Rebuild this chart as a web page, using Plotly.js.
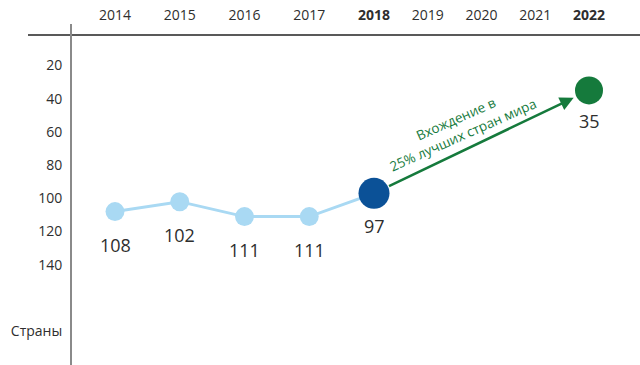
<!DOCTYPE html>
<html>
<head>
<meta charset="utf-8">
<script src="https://cdn.plot.ly/plotly-3.0.1.min.js"></script>
<style>html,body{margin:0;padding:0;background:#fff;}#chart{width:640px;height:365px;}</style>
</head>
<body>
<div id="chart"></div>
<script>
// ---- data ----
const pastYears = [2014, 2015, 2016, 2017, 2018];
const pastRanks = [108, 102, 111, 111, 97];
const currentYear = 2018;
const currentRank = 97;
const targetYear = 2022;
const targetRank = 35;
const futureTickYears = [2019, 2020, 2021, 2022];
const boldYears = [2018, 2022];
const rankTicks = [20, 40, 60, 80, 100, 120, 140, 180];
const rankTickText = ['20', '40', '60', '80', '100', '120', '140', 'Страны'];
const arrowText = 'Вхождение в<br>25% лучших стран мира';

const FONT = 'Open Sans, sans-serif';
const LIGHT = '#a9d9f3';
const DARK = '#0b5197';
const GREEN = '#157a3c';
const TXT = '#2e2e2e';

const fmtYear = y => boldYears.includes(y) ? '<b>' + y + '</b>' : String(y);

const traces = [
  {
    x: pastYears, y: pastRanks, xaxis: 'x', yaxis: 'y',
    mode: 'lines+markers', type: 'scatter', cliponaxis: false,
    line: {color: LIGHT, width: 3},
    marker: {color: LIGHT, size: 19},
    hoverinfo: 'skip'
  },
  {
    x: [currentYear], y: [currentRank], xaxis: 'x', yaxis: 'y',
    mode: 'markers', type: 'scatter', cliponaxis: false,
    marker: {color: DARK, size: 31},
    hoverinfo: 'skip'
  },
  {
    x: [targetYear], y: [targetRank], xaxis: 'x2', yaxis: 'y',
    mode: 'markers', type: 'scatter', cliponaxis: false,
    marker: {color: GREEN, size: 28},
    hoverinfo: 'skip'
  }
];

const annotations = [];
pastYears.forEach((yr, i) => {
  annotations.push({
    x: yr, y: pastRanks[i], xref: 'x', yref: 'y', text: String(pastRanks[i]),
    showarrow: false, yshift: -33, font: {family: FONT, size: 18, color: TXT}
  });
});
annotations.push({
  x: targetYear, y: targetRank, xref: 'x2', yref: 'y', text: String(targetRank),
  showarrow: false, yshift: -31, font: {family: FONT, size: 18, color: TXT}
});
// arrow from current to target
annotations.push({
  x: targetYear, y: targetRank, xref: 'x2', yref: 'y',
  ax: currentYear, ay: currentRank, axref: 'x2', ayref: 'y',
  showarrow: true, arrowhead: 2, arrowsize: 1.1, arrowwidth: 2.5, arrowcolor: GREEN,
  standoff: 17, startstandoff: 15, text: ''
});
// arrow label
annotations.push({
  x: (currentYear + targetYear) / 2, y: (currentRank + targetRank) / 2, xref: 'x2', yref: 'y',
  text: arrowText, showarrow: false, textangle: -24, xshift: -22, yshift: 15,
  font: {family: FONT, size: 13.5, color: GREEN}, align: 'center'
});

const layout = {
  width: 640, height: 365,
  margin: {l: 0, r: 0, t: 35, b: 0},
  paper_bgcolor: '#ffffff', plot_bgcolor: '#ffffff',
  showlegend: false,
  font: {family: FONT, color: TXT},
  xaxis: {
    domain: [115 / 640, 374 / 640], range: [2014, 2018], anchor: 'y', side: 'top',
    tickvals: pastYears, ticktext: pastYears.map(fmtYear),
    ticks: 'outside', ticklen: 8, tickcolor: 'rgba(0,0,0,0)',
    showgrid: false, zeroline: false, showline: false,
    tickfont: {family: FONT, size: 14, color: TXT}
  },
  xaxis2: {
    domain: [374 / 640, 589 / 640], range: [2018, 2022], anchor: 'y', side: 'top',
    tickvals: futureTickYears, ticktext: futureTickYears.map(fmtYear),
    ticks: 'outside', ticklen: 8, tickcolor: 'rgba(0,0,0,0)',
    showgrid: false, zeroline: false, showline: false,
    tickfont: {family: FONT, size: 14, color: TXT}
  },
  yaxis: {
    range: [200.4, 1.6], anchor: 'free', position: 71 / 640, side: 'left',
    tickvals: rankTicks, ticktext: rankTickText,
    ticks: 'outside', ticklen: 6, tickcolor: 'rgba(0,0,0,0)',
    showgrid: false, zeroline: false, showline: false,
    tickfont: {family: FONT, size: 14, color: TXT}
  },
  shapes: [
    {type: 'line', xref: 'paper', yref: 'paper', x0: 28 / 640, x1: 1, y0: 1, y1: 1,
     line: {color: '#222222', width: 1.5}},
    {type: 'line', xref: 'paper', yref: 'paper', x0: 71 / 640, x1: 71 / 640, y0: 0, y1: 1 + 11 / 330,
     line: {color: '#8a8a8a', width: 2}}
  ],
  annotations: annotations
};

Plotly.newPlot('chart', traces, layout, {displayModeBar: false, staticPlot: true});
</script>
</body>
</html>
